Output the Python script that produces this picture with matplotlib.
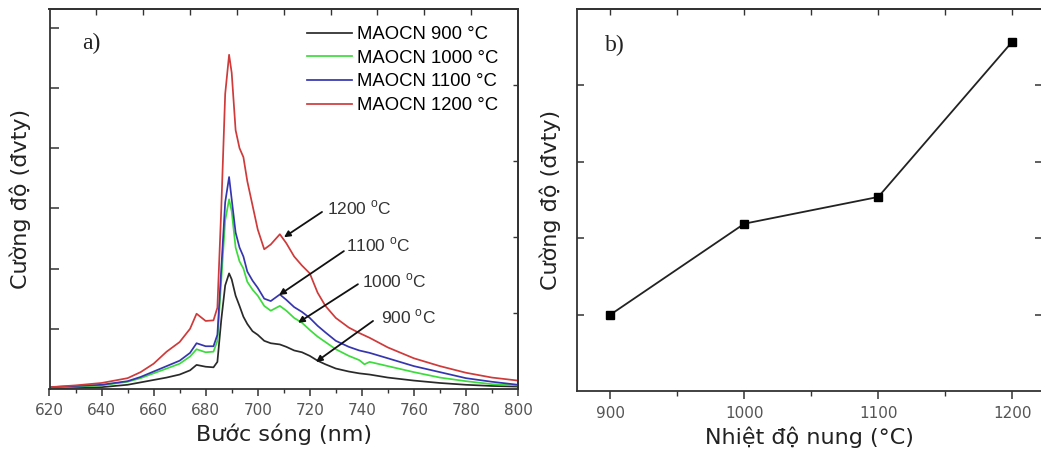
import matplotlib
matplotlib.use("Agg")
import matplotlib.pyplot as plt
from matplotlib.ticker import MultipleLocator

# --- data ---
wavelength = [620, 630, 640, 650, 655, 660, 665, 670, 674, 676.5,
              680, 683, 684.5, 686, 687.5, 689, 690, 691.5, 693, 694.5,
              696, 698, 700, 702.5, 705, 708.5, 711, 714, 717, 720,
              723, 726, 730, 735, 739, 741, 743, 750, 760, 770,
              780, 790, 800]

i_900 = [0.01, 0.02, 0.03, 0.07, 0.11, 0.15, 0.19, 0.24, 0.31, 0.40,
         0.37, 0.36, 0.45, 1.15, 1.72, 1.92, 1.82, 1.55, 1.38, 1.20,
         1.08, 0.96, 0.90, 0.80, 0.76, 0.74, 0.70, 0.64, 0.61, 0.55,
         0.47, 0.41, 0.34, 0.29, 0.26, 0.25, 0.24, 0.19, 0.14, 0.10,
         0.07, 0.05, 0.04]
i_1000 = [0.02, 0.04, 0.06, 0.12, 0.18, 0.26, 0.34, 0.42, 0.54, 0.66,
          0.61, 0.62, 0.80, 1.80, 2.80, 3.15, 2.95, 2.35, 2.12, 2.00,
          1.78, 1.65, 1.55, 1.38, 1.30, 1.38, 1.30, 1.18, 1.10, 0.98,
          0.87, 0.78, 0.66, 0.55, 0.48, 0.41, 0.45, 0.38, 0.28, 0.19,
          0.13, 0.08, 0.06]
i_1100 = [0.03, 0.05, 0.07, 0.13, 0.20, 0.29, 0.38, 0.47, 0.60, 0.76,
          0.71, 0.71, 0.90, 2.00, 3.10, 3.52, 3.15, 2.60, 2.35, 2.20,
          1.95, 1.80, 1.68, 1.50, 1.46, 1.57, 1.48, 1.36, 1.28, 1.18,
          1.05, 0.94, 0.80, 0.70, 0.64, 0.62, 0.60, 0.51, 0.38, 0.28,
          0.18, 0.12, 0.07]
i_1200 = [0.03, 0.06, 0.10, 0.18, 0.28, 0.42, 0.62, 0.78, 1.00, 1.25,
          1.13, 1.14, 1.35, 3.00, 4.90, 5.55, 5.25, 4.30, 4.00, 3.85,
          3.45, 3.05, 2.65, 2.32, 2.40, 2.57, 2.42, 2.20, 2.05, 1.92,
          1.60, 1.38, 1.18, 1.02, 0.93, 0.89, 0.85, 0.69, 0.51, 0.38,
          0.27, 0.19, 0.14]

spectra = [i_900, i_1000, i_1100, i_1200]
labels = ["MAOCN 900 °C", "MAOCN 1000 °C", "MAOCN 1100 °C", "MAOCN 1200 °C"]
colors = ["#2a2a2a", "#3ddc3d", "#3535b0", "#cf3a3a"]

temps = [900, 1000, 1100, 1200]
peak_intensity = [1.0, 2.19, 2.54, 4.57]

spine_c = "#333333"
tick_c = "#555555"

fig = plt.figure(figsize=(10.41, 4.54), dpi=100)

# ---------------- panel a ----------------
ax1 = fig.add_axes([49.5 / 1041, 1 - 389 / 454, 468.5 / 1041, 380 / 454])
for y, lab, c in zip(spectra, labels, colors):
    ax1.plot(wavelength, y, color=c, lw=1.25, label=lab)

ax1.set_xlim(620, 800)
ax1.set_ylim(0, 6.31)
ax1.xaxis.set_major_locator(MultipleLocator(20))
ax1.xaxis.set_minor_locator(MultipleLocator(10))
ax1.set_yticks([1, 2, 3, 4, 5, 6])
ax1.set_yticklabels([])
ax1.tick_params(axis="x", which="major", direction="out", length=5, width=1.1,
                colors=spine_c, labelcolor=tick_c, labelsize=11, pad=5)
ax1.tick_params(axis="x", which="minor", direction="out", length=3.2, width=1.0,
                colors=spine_c)
ax1.tick_params(axis="y", direction="in", length=6.5, width=1.1, colors=spine_c)

top1 = ax1.secondary_xaxis("top", functions=(lambda x: (x - 620) / 18.0,
                                              lambda t: 620 + 18.0 * t))
top1.set_xticks(range(1, 10))
top1.tick_params(direction="in", length=4, width=1.0, colors=spine_c, labeltop=False)
right1 = ax1.secondary_yaxis("right", functions=(lambda v: v * 5 / 6.31,
                                                  lambda r: r * 6.31 / 5))
right1.set_yticks([1, 2, 3, 4])
right1.tick_params(direction="in", length=3.6, width=1.0, colors=spine_c, labelright=False)

ax1.set_xlabel("Bước sóng (nm)", fontsize=16, color="#222222", labelpad=4)
ax1.set_ylabel("Cường độ (đvty)", fontsize=16, color="#222222", labelpad=10)
ax1.text(0.07, 0.91, "a)", transform=ax1.transAxes, fontsize=17,
         family="Liberation Serif", color="#222222", va="center")

ax1.legend(loc="upper left", bbox_to_anchor=(0.55, 0.955), frameon=False,
           prop={"family": "Liberation Sans", "size": 13.3},
           handlelength=2.4, handletextpad=0.3, labelspacing=0.36,
           borderpad=0, borderaxespad=0)

arrows = [
    ("1200 $^\\mathregular{o}$C", (710.1, 2.52), (724.7, 2.94), (726.6, 3.0)),
    ("1100 $^\\mathregular{o}$C", (708.2, 1.56), (733.1, 2.29), (733.9, 2.39)),
    ("1000 $^\\mathregular{o}$C", (715.5, 1.10), (738.5, 1.74), (740.0, 1.79)),
    ("900 $^\\mathregular{o}$C", (722.4, 0.45), (744.3, 1.13), (747.3, 1.20)),
]
for txt, tip, tail, pos in arrows:
    ax1.annotate("", xy=tip, xytext=tail,
                 arrowprops=dict(arrowstyle="-|>", mutation_scale=9, lw=1.3,
                                 color="#111111", shrinkA=0, shrinkB=0))
    ax1.text(pos[0], pos[1], txt, fontsize=12.5, family="Liberation Sans",
             color="#333333", va="center", ha="left")

# ---------------- panel b ----------------
ax2 = fig.add_axes([577 / 1041, 1 - 391 / 454, 464.6 / 1041, 382 / 454])
ax2.plot(temps, peak_intensity, color="#222222", lw=1.3, marker="s",
         markersize=6, markerfacecolor="black", markeredgecolor="black")
ax2.set_xlim(875, 1222)
ax2.set_ylim(0, 5)
ax2.xaxis.set_major_locator(MultipleLocator(100))
ax2.xaxis.set_minor_locator(MultipleLocator(50))
ax2.set_xticks([900, 1000, 1100, 1200])
ax2.set_yticks([1, 2, 3, 4])
ax2.set_yticklabels([])
ax2.tick_params(axis="x", which="major", direction="out", length=5.5, width=1.1,
                colors=spine_c, labelcolor=tick_c, labelsize=11, pad=5)
ax2.tick_params(axis="x", which="minor", direction="out", length=3.5, width=1.0,
                colors=spine_c)
ax2.tick_params(axis="y", direction="in", length=5, width=1.1, colors=spine_c,
                right=True)
top2 = ax2.secondary_xaxis("top")
top2.set_xticks([900, 950, 1000, 1050, 1100, 1150, 1200])
top2.tick_params(direction="in", length=4, width=1.0, colors=spine_c, labeltop=False)

ax2.set_xlabel("Nhiệt độ nung (°C)", fontsize=16, color="#222222", labelpad=4)
ax2.set_ylabel("Cường độ (đvty)", fontsize=16, color="#222222", labelpad=8)
ax2.text(0.06, 0.905, "b)", transform=ax2.transAxes, fontsize=17,
         family="Liberation Serif", color="#222222", va="center")

for a in (ax1, ax2, top1, right1, top2):
    for s in a.spines.values():
        s.set_color(spine_c)
        s.set_linewidth(1.3)

fig.savefig("out.png", dpi=100)
